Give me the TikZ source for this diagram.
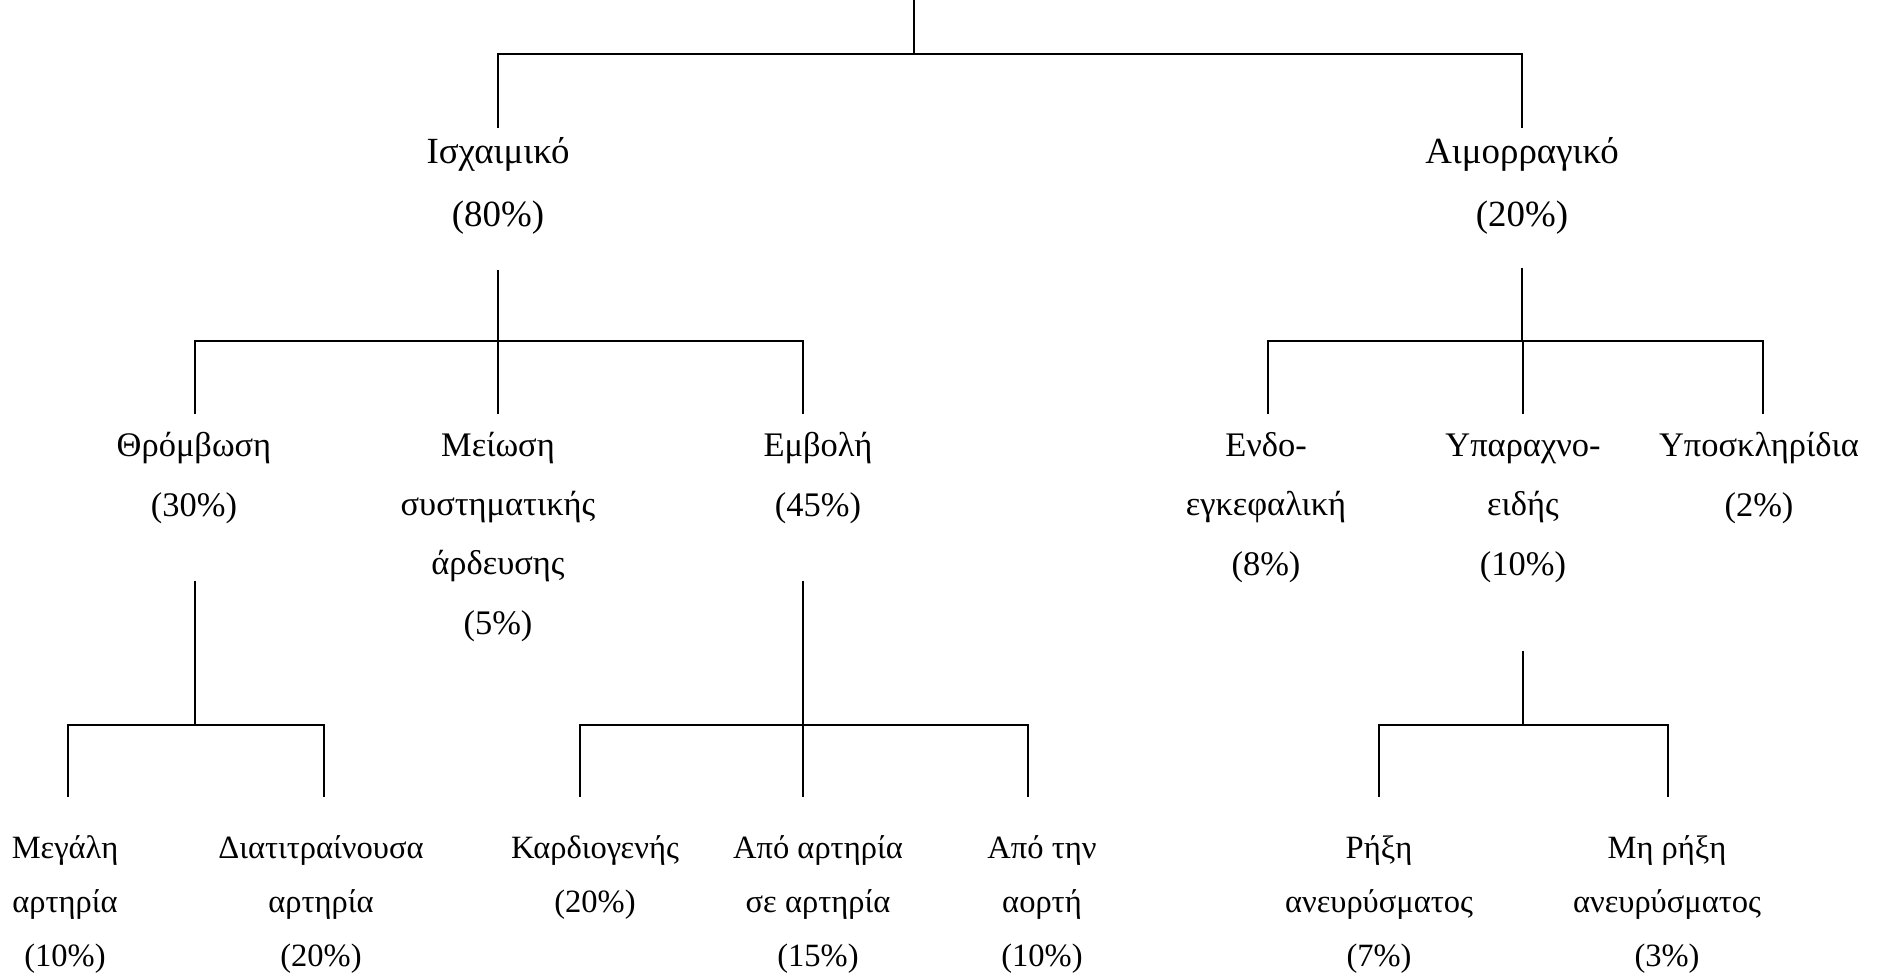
\documentclass[tikz,border=0pt]{standalone}
\usepackage{fontspec}
\setmainfont{Liberation Serif}
\usetikzlibrary{positioning,calc}
\tikzstyle{edge} = [draw=black,line width=0.8pt,-]
\tikzstyle{term} = [align=center,inner sep=0pt,anchor=base]
\tikzstyle{lvlone} = [term,font=\fontsize{21}{36.4}\selectfont]
\tikzstyle{lvltwo} = [term,font=\fontsize{19.6}{33.6}\selectfont]
\tikzstyle{lvlthree} = [term,font=\fontsize{18.5}{30.7}\selectfont]

\begin{document}
\begin{tikzpicture}[x=0.2mm,y=-0.2mm]
  \useasboundingbox (0,0) rectangle (1882,976);

  % stroke types (placed at the baseline of their last line)
  \foreach \pos / \name / \txt in {{(498,227)/isch/{Ισχαιμικό\\(80\%)}},
                                   {(1522,227)/aim/{Αιμορραγικό\\(20\%)}}}
    \node[lvlone] (\name) at \pos {\txt};

  % second level
  \foreach \pos / \name / \txt in {{(194,516)/thr/{Θρόμβωση\\(30\%)}},
                                   {(498,634)/mei/{Μείωση\\συστηματικής\\άρδευσης\\(5\%)}},
                                   {(818,516)/emb/{Εμβολή\\(45\%)}},
                                   {(1266,575)/endo/{Ενδο-\\εγκεφαλική\\(8\%)}},
                                   {(1523,575)/ypa/{Υπαραχνο-\\ειδής\\(10\%)}},
                                   {(1759,516)/ypo/{Υποσκληρίδια\\(2\%)}}}
    \node[lvltwo] (\name) at \pos {\txt};

  % third level
  \foreach \pos / \name / \txt in {{(65,966)/meg/{Μεγάλη\\αρτηρία\\(10\%)}},
                                   {(321,966)/diat/{Διατιτραίνουσα\\αρτηρία\\(20\%)}},
                                   {(595,912)/kard/{Καρδιογενής\\(20\%)}},
                                   {(818,966)/apart/{Από αρτηρία\\σε αρτηρία\\(15\%)}},
                                   {(1042,966)/aort/{Από την\\αορτή\\(10\%)}},
                                   {(1379,966)/rix/{Ρήξη\\ανευρύσματος\\(7\%)}},
                                   {(1667,966)/mrix/{Μη ρήξη\\ανευρύσματος\\(3\%)}}}
    \node[lvlthree] (\name) at \pos {\txt};

  % stems (start / fork) of every parent
  \foreach \name / \x / \ya / \yb in {root/914/0/54, isch/498/270/341, aim/1522/268/341,
                                      thr/195/581/725, emb/803/581/725, ypa/1523/651/725}
  {
    \coordinate (\name-s) at (\x,\ya);
    \coordinate (\name-f) at (\x,\yb);
    \path[edge] (\name-s) -- (\name-f);
  }

  % tips above every child
  \foreach \name / \x / \y in {isch/498/128, aim/1522/128,
                               thr/195/414, mei/498/414, emb/803/414,
                               endo/1268/414, ypa/1523/414, ypo/1763/414,
                               meg/68/797, diat/324/797, kard/580/797, apart/803/797,
                               aort/1028/797, rix/1379/797, mrix/1668/797}
    \coordinate (\name-t) at (\x,\y);

  % Connect forks with children
  \foreach \source / \dest in {root/isch, root/aim,
                               isch/thr, isch/mei, isch/emb,
                               aim/endo, aim/ypa, aim/ypo,
                               thr/meg, thr/diat,
                               emb/kard, emb/apart, emb/aort,
                               ypa/rix, ypa/mrix}
      \path[edge] (\source-f) -| (\dest-t);
\end{tikzpicture}
\end{document}
